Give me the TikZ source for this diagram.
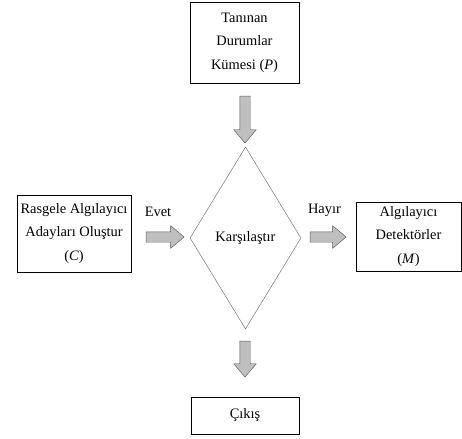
\documentclass[tikz,border=0pt]{standalone}
\usepackage{fontspec}
\setmainfont{Liberation Serif}
\usetikzlibrary{shapes.geometric,shapes.arrows}

\begin{document}
\begin{tikzpicture}[x=0.03cm,y=-0.03cm,
  kutu/.style={draw=black,align=center,inner sep=0pt,font=\fontsize{12.3}{20}\selectfont},
  karar/.style={diamond,draw=black!55,aspect=0.61,inner sep=0pt,minimum width=3.33cm,minimum height=5.46cm,font=\fontsize{12.3}{20}\selectfont},
  okblok/.style={single arrow,draw=black!65,fill=black!25,inner xsep=0pt,inner ysep=0.15cm,single arrow head extend=0.18cm,single arrow tip angle=80},
  etiket/.style={inner sep=1pt,font=\fontsize{12.3}{20}\selectfont}]
\useasboundingbox (0,0) rectangle (462,439);
%Kutular und Raute
\node[kutu,minimum width=3.27cm,minimum height=2.43cm] (kume) at (244.5,42.5) {Tanınan\\Durumlar\\Kümesi (\textit{P})};
\node[kutu,minimum width=3.42cm,minimum height=2.31cm] (aday) at (74,233.5) {Rasgele Algılayıcı\\Adayları Oluştur\\(\textit{C})};
\node[karar] (karsi) at (245.5,238) {Karşılaştır};
\node[kutu,minimum width=3.15cm,minimum height=2.07cm] (detek) at (408.5,236.5) {Algılayıcı\\Detektörler\\(\textit{M})};
\node[kutu,minimum width=3.24cm,minimum height=1.11cm] (cikis) at (245,415.5) {Çıkış};
%Blockpfeile
\node[okblok,rotate=-90,minimum height=1.41cm] (ok1) at (245,116.5) {};
\node[okblok,minimum height=1.14cm] (ok2) at (162,237) {};
\node[okblok,minimum height=1.08cm] (ok3) at (325,237) {};
\node[okblok,rotate=-90,minimum height=1.08cm] (ok4) at (245,356) {};
\node[etiket] (evet) at (158,212) {Evet};
\node[etiket] (hayir) at (324.5,210) {Hayır};
\end{tikzpicture}
\end{document}
